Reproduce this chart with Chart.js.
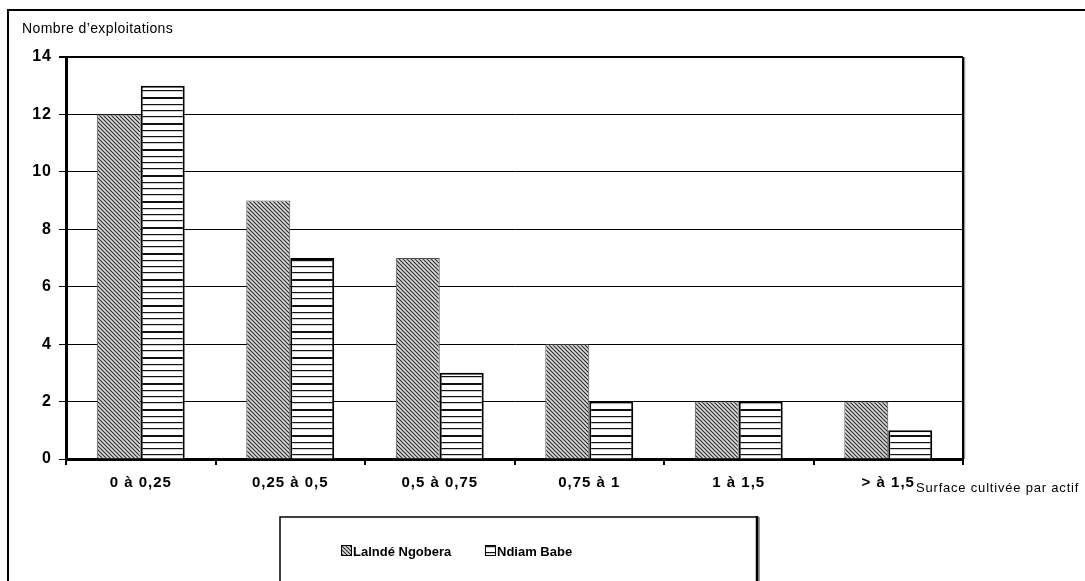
<!DOCTYPE html>
<html>
<head>
<meta charset="utf-8">
<script src="https://cdn.jsdelivr.net/npm/chart.js@4.4.1/dist/chart.umd.min.js"></script>
<style>
  html, body { margin: 0; padding: 0; background: #fff; }
  #wrap { width: 1085px; height: 581px; }
</style>
</head>
<body>
<div id="wrap"><canvas id="c" width="1085" height="581"></canvas></div>
<script>
// ---- DATA ----
const categories = ['0 à 0,25', '0,25 à 0,5', '0,5 à 0,75', '0,75 à 1', '1 à 1,5', '> à 1,5'];
const seriesNames = ['Lalndé Ngobera', 'Ndiam Babe'];
const laindeValues = [12, 9, 7, 4, 2, 2];
const ndiamValues = [13, 7, 3, 2, 2, 1];
const yMin = 0, yMax = 14, yStep = 2;
const yTitle = 'Nombre d\u2019exploitations';
const xTitle = 'Surface cultivée par actif';

// ---- PATTERNS ----
function diagPattern() {
  const s = 4;
  const c = document.createElement('canvas');
  c.width = s; c.height = s;
  const g = c.getContext('2d');
  g.fillStyle = '#dcdcdc';
  g.fillRect(0, 0, s, s);
  g.strokeStyle = '#2c2c2c';
  g.lineWidth = 1.2;
  g.beginPath();
  g.moveTo(-1, -1); g.lineTo(s + 1, s + 1);
  g.moveTo(-1 - s, -1); g.lineTo(1, s + 1);
  g.moveTo(s - 1, -1); g.lineTo(2 * s + 1, s + 1);
  g.stroke();
  return document.getElementById('c').getContext('2d').createPattern(c, 'repeat');
}
function horizPattern() {
  const c = document.createElement('canvas');
  c.width = 8; c.height = 26;
  const g = c.getContext('2d');
  g.fillStyle = '#ffffff';
  g.fillRect(0, 0, 8, 26);
  g.fillStyle = '#111111';
  [[0, 1.2], [6, 1.2], [12, 1.2], [19, 2]].forEach(([y, h]) => g.fillRect(0, y, 8, h));
  return document.getElementById('c').getContext('2d').createPattern(c, 'repeat');
}
const pDiag = diagPattern();
const pHoriz = horizPattern();

// ---- DECORATION PLUGIN ----
const deco = {
  id: 'deco',
  beforeDraw(chart) {
    const ctx = chart.ctx;
    ctx.save();
    ctx.fillStyle = '#fff';
    ctx.fillRect(0, 0, chart.width, chart.height);
    ctx.restore();
    ctx.letterSpacing = '1px';
  },
  afterDraw(chart) {
    const ctx = chart.ctx;
    const a = chart.chartArea;
    ctx.save();
    ctx.letterSpacing = '0px';
    // outer frame
    ctx.strokeStyle = '#000';
    ctx.lineWidth = 2;
    ctx.beginPath();
    ctx.moveTo(8, 600); ctx.lineTo(8, 10); ctx.lineTo(1090, 10);
    ctx.stroke();
    // right plot border
    ctx.strokeStyle = '#999';
    ctx.lineWidth = 1.5;
    ctx.beginPath(); ctx.moveTo(a.right + 1.5, a.top); ctx.lineTo(a.right + 1.5, a.bottom); ctx.stroke();
    ctx.strokeStyle = '#000';
    ctx.lineWidth = 2;
    ctx.beginPath(); ctx.moveTo(a.right, a.top); ctx.lineTo(a.right, a.bottom); ctx.stroke();
    // titles
    ctx.fillStyle = '#000';
    ctx.textBaseline = 'alphabetic';
    ctx.textAlign = 'left';
    ctx.font = '14px "Liberation Sans", Arial, sans-serif';
    ctx.letterSpacing = '0.4px';
    ctx.fillText(yTitle, 22, 33);
    ctx.font = '13px "Liberation Sans", Arial, sans-serif';
    ctx.letterSpacing = '0.8px';
    ctx.fillText(xTitle, 916, 492);
    ctx.letterSpacing = '0px';
    // legend frame
    ctx.strokeStyle = '#000';
    ctx.lineWidth = 1.5;
    ctx.beginPath();
    ctx.moveTo(280, 600); ctx.lineTo(280, 517); ctx.lineTo(757, 517);
    ctx.stroke();
    ctx.strokeStyle = '#999';
    ctx.lineWidth = 2;
    ctx.beginPath(); ctx.moveTo(759, 517); ctx.lineTo(759, 600); ctx.stroke();
    ctx.strokeStyle = '#000';
    ctx.lineWidth = 2.5;
    ctx.beginPath(); ctx.moveTo(757, 516); ctx.lineTo(757, 600); ctx.stroke();
    // legend items
    const items = [
      { x: 341, fill: pDiag, label: seriesNames[0] },
      { x: 485, fill: pHoriz, label: seriesNames[1] }
    ];
    ctx.font = 'bold 13px "Liberation Sans", Arial, sans-serif';
    items.forEach(it => {
      ctx.fillStyle = it.fill;
      ctx.fillRect(it.x, 545, 10, 10);
      ctx.strokeStyle = '#000';
      ctx.lineWidth = 1;
      ctx.strokeRect(it.x + 0.5, 545.5, 10, 10);
      ctx.fillStyle = '#000';
      ctx.fillText(it.label, it.x + 12, 556);
    });
    ctx.restore();
  }
};

new Chart(document.getElementById('c'), {
  type: 'bar',
  data: {
    labels: categories,
    datasets: [
      { label: seriesNames[0], data: laindeValues, backgroundColor: pDiag, borderColor: '#555', borderWidth: 1 },
      { label: seriesNames[1], data: ndiamValues, backgroundColor: pHoriz, borderColor: '#000', borderWidth: 2 }
    ]
  },
  options: {
    responsive: false,
    animation: false,
    devicePixelRatio: 1,
    layout: { padding: { top: 57, right: 122, bottom: 0, left: 0 } },
    datasets: { bar: { categoryPercentage: 0.588, barPercentage: 1 } },
    plugins: { legend: { display: false }, tooltip: { enabled: false } },
    scales: {
      x: {
        grid: { offset: true, drawOnChartArea: false, drawTicks: true, tickLength: 6, color: '#000', lineWidth: 2 },
        border: { display: true, color: '#000', width: 3 },
        ticks: { color: '#000', font: { family: '"Liberation Sans", Arial, sans-serif', size: 15, weight: 'bold' }, padding: 9, maxRotation: 0, autoSkip: false },
        afterFit(scale) { scale.height = 122; }
      },
      y: {
        min: yMin, max: yMax,
        grid: {
          color: '#000',
          lineWidth: (c) => (c.tick && c.tick.value === yMax ? 2 : 1),
          tickLength: 7
        },
        border: { display: true, color: '#000', width: 3 },
        ticks: { stepSize: yStep, color: '#000', padding: 7, font: { family: '"Liberation Sans", Arial, sans-serif', size: 16, weight: 'bold' } },
        afterFit(scale) { scale.width = 66; }
      }
    }
  },
  plugins: [deco]
});
</script>
</body>
</html>
